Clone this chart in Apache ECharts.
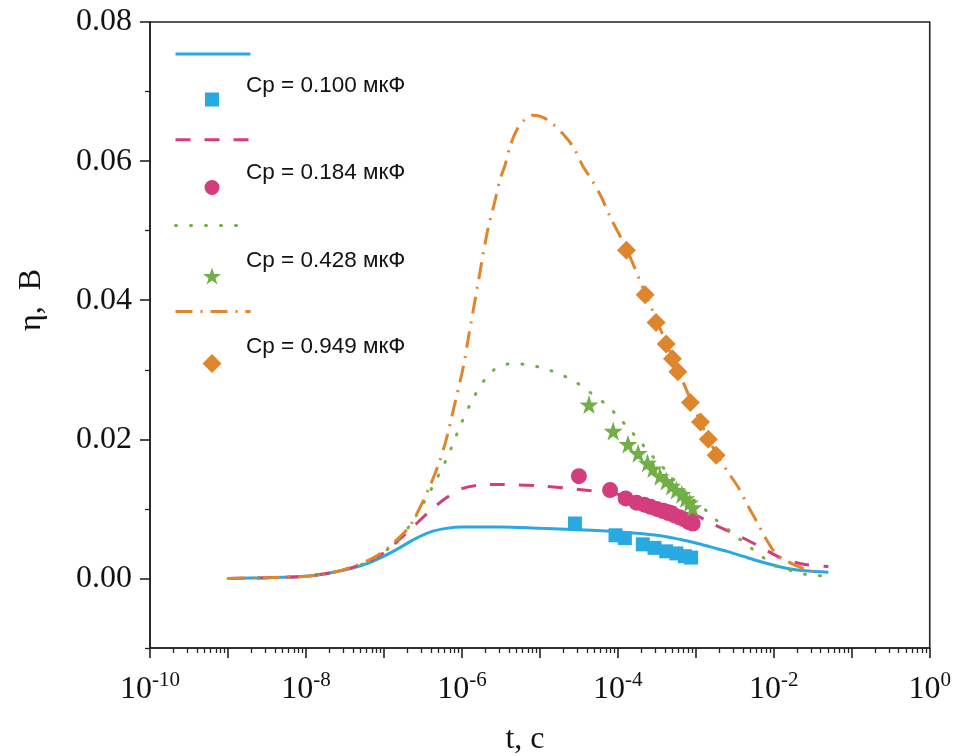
<!DOCTYPE html>
<html><head><meta charset="utf-8">
<script src="https://cdn.jsdelivr.net/npm/echarts@6/dist/echarts.min.js"></script>
<style>html,body{margin:0;padding:0;background:#fff}#c{width:954px;height:756px}</style>
</head><body><div id="c"></div>
<script>
// ---- data: [log10(t, c), η (В)] ----
const seriesLabels = ['Cp = 0.100 мкФ', 'Cp = 0.184 мкФ', 'Cp = 0.428 мкФ', 'Cp = 0.949 мкФ'];
const colors = ['#29A9E1', '#D43D7D', '#71AF45', '#DF862D'];

const curve0100 = [[-9.0,0.0000],[-8.5,0.0001],[-8.0,0.0003],[-7.8,0.0006],[-7.6,0.0010],[-7.4,0.0015],[-7.2,0.0022],[-7.0,0.0032],[-6.8,0.0044],[-6.6,0.0057],[-6.4,0.0067],[-6.2,0.0072],[-6.0,0.0074],[-5.5,0.0074],[-5.0,0.0072],[-4.5,0.0070],[-4.0,0.0067],[-3.5,0.0062],[-3.2,0.0056],[-3.0,0.0051],[-2.8,0.0045],[-2.6,0.0039],[-2.4,0.0032],[-2.2,0.0025],[-2.0,0.0019],[-1.8,0.0014],[-1.6,0.0011],[-1.3,0.0009]];
const curve0184 = [[-9.0,0.0000],[-8.5,0.0001],[-8.0,0.0003],[-7.8,0.0006],[-7.6,0.0010],[-7.4,0.0016],[-7.2,0.0024],[-7.0,0.0037],[-6.8,0.0056],[-6.6,0.0077],[-6.4,0.0098],[-6.2,0.0116],[-6.0,0.0129],[-5.8,0.0134],[-5.5,0.0135],[-5.0,0.0133],[-4.5,0.0128],[-4.0,0.0121],[-3.6,0.0112],[-3.3,0.0103],[-3.0,0.0091],[-2.8,0.0079],[-2.5,0.0064],[-2.2,0.0047],[-1.9,0.0029],[-1.6,0.0020],[-1.3,0.0017]];
const curve0428 = [[-9.0,0.0000],[-8.5,0.0001],[-8.0,0.0003],[-7.8,0.0006],[-7.6,0.0010],[-7.4,0.0016],[-7.2,0.0024],[-7.0,0.0038],[-6.8,0.0057],[-6.6,0.0088],[-6.4,0.0127],[-6.2,0.0171],[-6.0,0.0225],[-5.85,0.0260],[-5.7,0.0287],[-5.55,0.0303],[-5.35,0.0309],[-5.15,0.0307],[-4.95,0.0302],[-4.75,0.0294],[-4.55,0.0283],[-4.35,0.0267],[-4.15,0.0250],[-4.0,0.0233],[-3.85,0.0214],[-3.7,0.0195],[-3.55,0.0175],[-3.4,0.0157],[-3.25,0.0138],[-3.1,0.0120],[-2.9,0.0101],[-2.75,0.0085],[-2.55,0.0067],[-2.4,0.0053],[-2.2,0.0036],[-2.0,0.0019],[-1.8,0.0012],[-1.6,0.0006],[-1.3,0.0003]];
const curve0949 = [[-9.0,0.0000],[-8.5,0.0001],[-8.0,0.0003],[-7.8,0.0006],[-7.6,0.0010],[-7.4,0.0017],[-7.2,0.0026],[-7.0,0.0039],[-6.85,0.0054],[-6.67,0.0075],[-6.56,0.0097],[-6.41,0.0133],[-6.3,0.0164],[-6.2,0.0200],[-6.1,0.0247],[-5.98,0.0305],[-5.92,0.0344],[-5.8,0.0420],[-5.68,0.0495],[-5.58,0.0541],[-5.51,0.0574],[-5.45,0.0593],[-5.38,0.0622],[-5.3,0.0644],[-5.21,0.0658],[-5.09,0.0666],[-4.96,0.0663],[-4.83,0.0653],[-4.72,0.0641],[-4.57,0.0620],[-4.45,0.0593],[-4.34,0.0574],[-4.21,0.0548],[-4.1,0.0520],[-3.89,0.0474],[-3.65,0.0410],[-3.4,0.0344],[-3.2,0.0292],[-3.0,0.0240],[-2.8,0.0192],[-2.6,0.0155],[-2.45,0.0130],[-2.34,0.0106],[-2.22,0.0082],[-2.11,0.0059],[-1.97,0.0035],[-1.8,0.0023],[-1.6,0.0013],[-1.41,0.0007]];

const points0100 = [[-4.55,0.0079],[-4.03,0.0062],[-3.91,0.0058],[-3.68,0.0049],[-3.53,0.0044],[-3.38,0.0039],[-3.25,0.0036],[-3.14,0.0032],[-3.06,0.0030]];
const points0184 = [[-4.50,0.0147],[-4.10,0.0127],[-3.90,0.0115],[-3.76,0.0109],[-3.66,0.0106],[-3.58,0.0103],[-3.50,0.0100],[-3.42,0.0097],[-3.35,0.0094],[-3.28,0.0091],[-3.21,0.0088],[-3.15,0.0085],[-3.09,0.0081],[-3.04,0.0079]];
const points0428 = [[-4.37,0.0250],[-4.06,0.0212],[-3.87,0.0193],[-3.74,0.0180],[-3.62,0.0166],[-3.55,0.0158],[-3.46,0.0147],[-3.38,0.0140],[-3.31,0.0133],[-3.25,0.0127],[-3.18,0.0121],[-3.13,0.0115],[-3.08,0.0109],[-3.04,0.0102]];
const points0949 = [[-3.89,0.0472],[-3.65,0.0408],[-3.51,0.0368],[-3.38,0.0337],[-3.30,0.0316],[-3.23,0.0297],[-3.07,0.0253],[-2.94,0.0225],[-2.84,0.0200],[-2.74,0.0177]];

const yMajorTicks = [0, 0.02, 0.04, 0.06, 0.08];
const yMinorTicks = [-0.01, 0.01, 0.03, 0.05, 0.07];
const xDecadeExponents = [-10, -9, -8, -7, -6, -5, -4, -3, -2, -1, 0];
const xLabelExponents = [-10, -8, -6, -4, -2, 0];

// ---- build ----
const toT = arr => arr.map(p => [Math.pow(10, p[0]), p[1]]);
const curves = [curve0100, curve0184, curve0428, curve0949];
const points = [points0100, points0184, points0428, points0949];
const lineTypes = [[], [15, 14], [1, 14], [17, 8, 2, 8]];
const lineCaps = ['butt', 'butt', 'round', 'butt'];
const STAR = 'path://M50,0 L61.8,35.3 L98.5,35.3 L68.8,57.3 L79.4,91.5 L50,70.5 L20.6,91.5 L31.2,57.3 L1.5,35.3 L38.2,35.3 Z';
const symbols = ['rect', 'circle', STAR, 'diamond'];
const symSizes = [14, 16, 19, 19];
const lineNames = seriesLabels.map(s => s + ' ');

const xMinor = [];
for (let n = -10; n < 0; n++) for (let k = 2; k <= 9; k++) xMinor.push(n + Math.log10(k));

const series = [];
curves.forEach((c, i) => series.push({
  name: lineNames[i], type: 'line', xAxisIndex: 0, yAxisIndex: 0,
  data: toT(c), symbol: 'none', smooth: 0.3, z: 2,
  lineStyle: { color: colors[i], width: 3, type: i === 0 ? 'solid' : lineTypes[i], cap: lineCaps[i] },
  itemStyle: { color: colors[i] }
}));
points.forEach((p, i) => series.push({
  name: seriesLabels[i], type: 'scatter', xAxisIndex: 0, yAxisIndex: 0,
  data: toT(p), symbol: symbols[i], symbolSize: symSizes[i], z: 3,
  itemStyle: { color: colors[i], opacity: 1 }
}));

const markerCY = [99, 187, 275.5, 363];
const textCY = [85, 172.5, 260, 346.5];
const legendSizes = [14, 15, 18, 19];
const legends = [{
  data: lineNames, orient: 'vertical', left: 174, top: 50, itemWidth: 75, itemHeight: 10, itemGap: 77.8,
  padding: 0, selectedMode: false, formatter: () => '', textStyle: { fontSize: 10, lineHeight: 10 },
  lineStyle: { width: 3 }, itemStyle: { opacity: 0, borderWidth: 0 }
}];
seriesLabels.forEach((name, i) => {
  const s = legendSizes[i];
  const P = 2 * (markerCY[i] - textCY[i]);
  const left = 212 - s / 2;
  const padLeft = 246 - (left + s + 5);
  legends.push({
    data: [name], left: left, top: markerCY[i] - (22 + P) / 2, itemWidth: s, itemHeight: s,
    padding: 0, selectedMode: false,
    formatter: n => '{t|' + n + '}',
    textStyle: { rich: { t: { fontSize: 22.5, lineHeight: 22, fontFamily: 'Liberation Sans', color: '#111', padding: [0, 0, P, padLeft] } } }
  });
});

const axisCol = '#222';
const chart = echarts.init(document.getElementById('c'), null, { renderer: 'canvas' });
chart.setOption({
  animation: false,
  backgroundColor: '#fff',
  grid: { left: 150, right: 24, top: 22, bottom: 108, show: true, borderColor: axisCol, borderWidth: 1.6, backgroundColor: 'transparent' },
  xAxis: [{
    type: 'log', logBase: 10, min: Math.pow(10, xDecadeExponents[0]), max: Math.pow(10, xDecadeExponents[xDecadeExponents.length - 1]),
    interval: 1, position: 'bottom',
    axisLine: { show: true, onZero: false, lineStyle: { color: axisCol, width: 1.6 } },
    axisTick: { show: true, length: 10, inside: false, lineStyle: { color: axisCol, width: 1.6 } },
    splitLine: { show: false }, minorTick: { show: false },
    axisLabel: {
      margin: 22, color: '#111',
      formatter: v => {
        const e = Math.round(Math.log10(v));
        return xLabelExponents.indexOf(e) >= 0 ? '{b|10}{s|' + e + '}' : '';
      },
      rich: {
        b: { fontSize: 32, fontFamily: 'Liberation Serif', color: '#111' },
        s: { fontSize: 21, fontFamily: 'Liberation Serif', color: '#111', padding: [0, 0, 18, 0] }
      }
    }
  }, {
    type: 'value', min: -10, max: 0, position: 'bottom', show: true,
    axisLine: { show: false, onZero: false }, axisLabel: { show: false }, splitLine: { show: false },
    axisTick: { show: true, length: 5, customValues: xMinor, lineStyle: { color: axisCol, width: 1.3 } }
  }],
  yAxis: [{
    type: 'value', min: -0.01, max: 0.08, position: 'left',
    axisLine: { show: true, onZero: false, lineStyle: { color: axisCol, width: 1.6 } },
    axisTick: { show: true, length: 10, customValues: yMajorTicks, lineStyle: { color: axisCol, width: 1.6 } },
    axisLabel: { customValues: yMajorTicks, margin: 18, fontSize: 32, fontFamily: 'Liberation Serif', color: '#111', formatter: v => v.toFixed(2) },
    splitLine: { show: false }
  }, {
    type: 'value', min: -0.01, max: 0.08, position: 'left',
    axisLine: { show: false, onZero: false }, axisLabel: { show: false }, splitLine: { show: false },
    axisTick: { show: true, length: 5, customValues: yMinorTicks, lineStyle: { color: axisCol, width: 1.3 } }
  }],
  legend: legends,
  graphic: [
    { type: 'text', x: 525, y: 740, style: { text: 't, c', font: '32px "Liberation Serif"', fill: '#111', align: 'center', verticalAlign: 'middle', textAlign: 'center', textVerticalAlign: 'middle' } },
    { type: 'text', x: 32, y: 300, rotation: Math.PI / 2, style: { text: 'η,  В', font: '32px "Liberation Serif"', fill: '#111', align: 'center', verticalAlign: 'middle', textAlign: 'center', textVerticalAlign: 'middle' } }
  ],
  series: series
});
</script></body></html>
